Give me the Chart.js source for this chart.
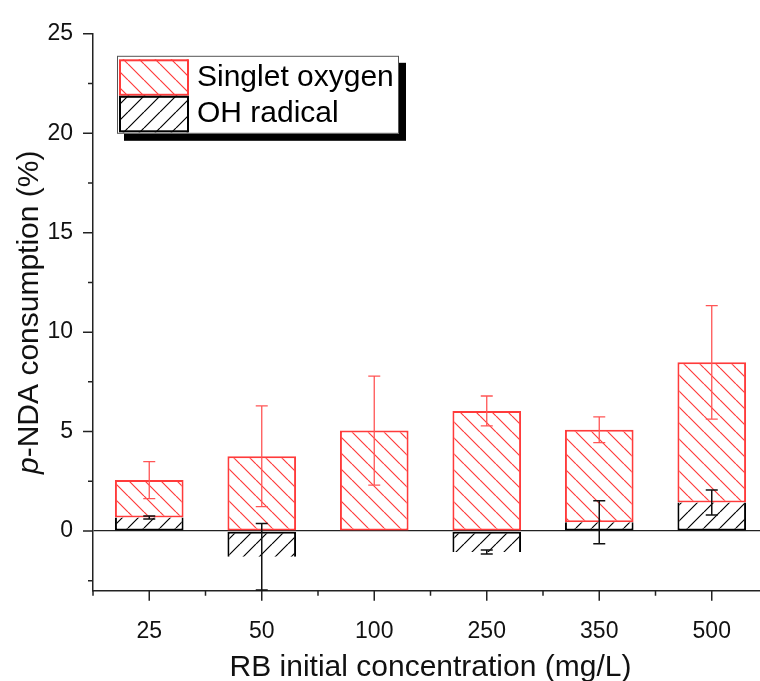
<!DOCTYPE html>
<html>
<head>
<meta charset="utf-8">
<title>p-NDA consumption</title>
<script src="https://cdn.jsdelivr.net/npm/chart.js@4.4.0/dist/chart.umd.min.js"></script>
<style>
  html, body { margin: 0; padding: 0; background: #fff; overflow: hidden; }
  #wrap { width: 770px; height: 681px; }
</style>
</head>
<body>
<div id="wrap"><canvas id="chart" width="770" height="681"></canvas></div>
<script>
// p-NDA consumption by singlet oxygen / OH radical at each RB concentration

const categories = ['25', '50', '100', '250', '350', '500'];
const ohRadical = [0.68, -1.29, 0, -1.05, 0.44, 1.43];
const ohRadicalErr = [0.08, 1.67, 0, 0.1, 1.08, 0.63];
const singletOxygen = [1.88, 3.76, 5.05, 6.04, 4.65, 7.05];
const singletOxygenErr = [0.93, 2.53, 2.74, 0.75, 0.65, 2.85];
const yMajorTicks = [0, 5, 10, 15, 20, 25];
const yMinorTicks = [-2.5, 2.5, 7.5, 12.5, 17.5, 22.5];

const FONT = "'Liberation Sans', Arial, sans-serif";
const RED = '#ff3b3b';

const canvas = document.getElementById('chart');
const ctx = canvas.getContext('2d');

// diagonal hatch fill, white behind the lines
function hatch(color, dir) {
  const size = 16;
  const tile = document.createElement('canvas');
  tile.width = size;
  tile.height = size;
  const g = tile.getContext('2d');
  g.fillStyle = '#fff';
  g.fillRect(0, 0, size, size);
  g.strokeStyle = color;
  g.lineWidth = 1.2;
  g.beginPath();
  [-size, 0, size].forEach(k => {
    if (dir === 'down') {
      g.moveTo(k, 0);
      g.lineTo(k + size, size);
    } else {
      g.moveTo(k, size);
      g.lineTo(k + size, 0);
    }
  });
  g.stroke();
  return ctx.createPattern(tile, 'repeat');
}

const errorBars = {
  id: 'errorBars',
  afterDatasetsDraw(chart) {
    const { ctx, scales: { y } } = chart;
    chart.data.datasets.forEach((ds, di) => {
      const meta = chart.getDatasetMeta(di);
      ctx.save();
      ctx.strokeStyle = ds.errorColor;
      ctx.lineWidth = ds.errorWidth;
      meta.data.forEach((bar, i) => {
        const err = ds.errors[i];
        if (!err) return;
        const v = y.getValueForPixel(bar.y);
        const top = y.getPixelForValue(v + err);
        const bottom = y.getPixelForValue(v - err);
        const cap = 6;
        ctx.beginPath();
        ctx.moveTo(bar.x, top);
        ctx.lineTo(bar.x, bottom);
        ctx.moveTo(bar.x - cap, top);
        ctx.lineTo(bar.x + cap, top);
        ctx.moveTo(bar.x - cap, bottom);
        ctx.lineTo(bar.x + cap, bottom);
        ctx.stroke();
      });
      ctx.restore();
    });
  }
};

// outward tick marks, long at labels, short in between
const axisTicks = {
  id: 'axisTicks',
  afterDraw(chart) {
    const { ctx, chartArea, scales: { x, y } } = chart;
    ctx.save();
    ctx.strokeStyle = '#222';
    ctx.lineWidth = 1.5;
    ctx.beginPath();
    yMajorTicks.forEach(v => {
      const py = y.getPixelForValue(v);
      ctx.moveTo(chartArea.left - 10, py);
      ctx.lineTo(chartArea.left, py);
    });
    yMinorTicks.forEach(v => {
      const py = y.getPixelForValue(v);
      ctx.moveTo(chartArea.left - 5, py);
      ctx.lineTo(chartArea.left, py);
    });
    categories.forEach((c, i) => {
      const px = x.getPixelForValue(i);
      ctx.moveTo(px, chartArea.bottom);
      ctx.lineTo(px, chartArea.bottom + 10);
      const mx = x.getPixelForValue(i - 0.5);
      ctx.moveTo(mx, chartArea.bottom);
      ctx.lineTo(mx, chartArea.bottom + 5);
    });
    ctx.stroke();
    ctx.restore();
  }
};

// y title with italic "p"
const yTitle = {
  id: 'yTitle',
  afterDraw(chart) {
    const { ctx, chartArea } = chart;
    const first = 'p';
    const rest = '-NDA consumption (%)';
    ctx.save();
    ctx.translate(37.5, (chartArea.top + chartArea.bottom) / 2);
    ctx.rotate(-Math.PI / 2);
    ctx.fillStyle = '#111';
    ctx.textBaseline = 'alphabetic';
    ctx.font = 'italic 30px ' + FONT;
    const w1 = ctx.measureText(first).width;
    ctx.font = '30px ' + FONT;
    const w2 = ctx.measureText(rest).width;
    const start = -(w1 + w2) / 2;
    ctx.font = 'italic 30px ' + FONT;
    ctx.fillText(first, start, 0);
    ctx.font = '30px ' + FONT;
    ctx.fillText(rest, start + w1, 0);
    ctx.restore();
  }
};

// framed legend with a drop shadow
const boxLegend = {
  id: 'boxLegend',
  afterDraw(chart) {
    const { ctx, chartArea } = chart;
    const x = chartArea.left + 24;
    const y0 = chartArea.top + 22;
    const w = 282;
    const h = 78;
    ctx.save();
    ctx.fillStyle = '#000';
    ctx.fillRect(x + 7, y0 + 7, w, h);
    ctx.fillStyle = '#fff';
    ctx.fillRect(x, y0, w, h);
    ctx.strokeStyle = '#555';
    ctx.lineWidth = 1;
    ctx.strokeRect(x + 0.5, y0 + 0.5, w - 1, h - 1);

    const sw = 70;
    const sh = 36.5;
    chart.data.datasets.forEach((ds, i) => {
      const sy = y0 + 3.5 + i * sh;
      ctx.fillStyle = ds.backgroundColor;
      ctx.fillRect(x + 2, sy, sw, sh);
      ctx.strokeStyle = ds.borderColor;
      ctx.lineWidth = 2;
      ctx.strokeRect(x + 3, sy + 1, sw - 2, sh - 2);
      ctx.fillStyle = '#000';
      ctx.font = '30px ' + FONT;
      ctx.textBaseline = 'middle';
      ctx.fillText(ds.label, x + 80, sy + sh / 2);
    });
    ctx.restore();
  }
};

Chart.defaults.font.family = FONT;
Chart.defaults.color = '#111';

new Chart(canvas, {
  type: 'bar',
  data: {
    labels: categories,
    datasets: [
      {
        label: 'Singlet oxygen',
        data: singletOxygen,
        errors: singletOxygenErr,
        errorColor: '#ff5555',
        errorWidth: 1.3,
        backgroundColor: hatch(RED, 'down'),
        borderColor: RED,
        borderWidth: 2,
        borderSkipped: false,
        order: 2
      },
      {
        label: 'OH radical',
        data: ohRadical,
        errors: ohRadicalErr,
        errorColor: '#111',
        errorWidth: 1.5,
        backgroundColor: hatch('#000', 'up'),
        borderColor: '#000',
        borderWidth: 2,
        borderSkipped: 'top',
        order: 1
      }
    ]
  },
  options: {
    responsive: false,
    animation: false,
    devicePixelRatio: 1,
    layout: {
      padding: { left: 0, right: 2, top: 21.7, bottom: 0 }
    },
    datasets: {
      bar: {
        barPercentage: 0.61,
        categoryPercentage: 1
      }
    },
    plugins: {
      legend: { display: false },
      tooltip: { enabled: false }
    },
    scales: {
      x: {
        stacked: true,
        offset: true,
        grid: { display: false },
        border: { display: true, color: '#222', width: 1.5 },
        ticks: {
          font: { size: 23, lineHeight: 1.2 },
          padding: 19,
          maxRotation: 0,
          autoSkip: false
        },
        title: {
          display: true,
          text: 'RB initial concentration (mg/L)',
          font: { size: 30, lineHeight: 0.9 },
          padding: { top: 0, bottom: 0 }
        },
        afterFit: (scale) => { scale.height = 681 - 590.7; }
      },
      y: {
        stacked: true,
        min: -3,
        max: 25,
        bounds: 'data',
        grid: {
          drawTicks: false,
          lineWidth: 1.2,
          color: (c) => (c.tick && c.tick.value === 0 ? '#222' : 'rgba(0,0,0,0)')
        },
        border: { display: true, color: '#222', width: 1.5 },
        ticks: {
          autoSkip: false,
          font: { size: 23 },
          padding: 20
        },
        afterBuildTicks: (scale) => {
          scale.ticks = yMajorTicks.map(v => ({ value: v }));
        },
        afterFit: (scale) => { scale.width = 93; }
      }
    }
  },
  plugins: [errorBars, axisTicks, yTitle, boxLegend]
});
</script>
</body>
</html>
